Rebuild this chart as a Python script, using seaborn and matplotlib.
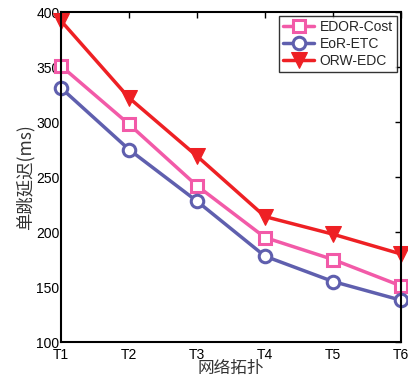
import matplotlib
matplotlib.use("Agg")
import matplotlib.pyplot as plt
import seaborn as sns
import pandas as pd

topologies = ["T1", "T2", "T3", "T4", "T5", "T6"]
edor_cost = [351, 298, 242, 195, 175, 151]
eor_etc = [331, 275, 228, 178, 155, 138]
orw_edc = [392, 322, 269, 214, 198, 180]

series = ["EDOR-Cost", "EoR-ETC", "ORW-EDC"]
values = [edor_cost, eor_etc, orw_edc]

rows = []
for name, vals in zip(series, values):
    for i, (t, v) in enumerate(zip(topologies, vals)):
        rows.append({"idx": i, "topo": t, "delay": v, "series": name})
df = pd.DataFrame(rows)

sns.set_theme(style="white")
plt.rcParams['font.family'] = ['Liberation Sans', 'Noto Sans CJK SC', 'DejaVu Sans']

fig = plt.figure(figsize=(4.08, 3.78), dpi=100)
ax = fig.add_axes([0.1495, 0.0952, 0.8335, 0.873])

colors = {"EDOR-Cost": "#F25AA8", "EoR-ETC": "#5F5FAE", "ORW-EDC": "#EE2024"}
markers = {"EDOR-Cost": "s", "EoR-ETC": "o", "ORW-EDC": "v"}

for name in series:
    sub = df[df["series"] == name]
    c = colors[name]
    if name == "ORW-EDC":
        sns.lineplot(data=sub, x="idx", y="delay", ax=ax, color=c, lw=2.5,
                     marker=markers[name], markersize=11, markerfacecolor=c,
                     markeredgecolor=c, label=name, clip_on=False)
    else:
        sns.lineplot(data=sub, x="idx", y="delay", ax=ax, color=c, lw=2.5,
                     marker=markers[name], markersize=9, markerfacecolor="white",
                     markeredgecolor=c, markeredgewidth=2.2, label=name, clip_on=False)

ax.set_xlim(0, 5)
ax.set_ylim(100, 400)
ax.set_xticks(range(len(topologies)))
ax.set_xticklabels(topologies)
ax.set_yticks([100, 150, 200, 250, 300, 350, 400])
ax.tick_params(direction="in", length=4, width=1, labelsize=10, top=True, right=True,
               colors="black")
ax.tick_params(axis="x", pad=4)
ax.tick_params(axis="y", pad=1)
for s in ax.spines.values():
    s.set_color("black")
    s.set_linewidth(1.5)
ax.set_xlabel("网络拓扑", fontsize=12, family=['Noto Sans CJK SC'], labelpad=-1, color="#333333")
ax.set_ylabel("单跳延迟(ms)", fontsize=12.5, family=['Noto Sans CJK SC', 'Liberation Sans'], labelpad=1, color="#333333")

leg = ax.legend(loc="upper right", fontsize=10, frameon=True, fancybox=False,
                edgecolor="black", borderpad=0.3, labelspacing=0.2, handlelength=2.2,
                handletextpad=0.4, borderaxespad=0.3)
leg.get_frame().set_linewidth(1.0)

fig.savefig("out.png", dpi=100)
